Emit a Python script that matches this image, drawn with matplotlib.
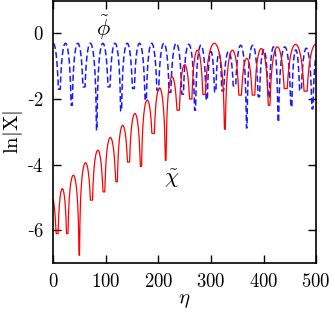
import numpy as np
import matplotlib
matplotlib.use("Agg")
import matplotlib.pyplot as plt

plt.rcParams['mathtext.fontset'] = 'cm'
plt.rcParams['font.family'] = ['DejaVu Serif']

# ---- data ----
# chi~ (red): dip positions, dip depths, arch peak heights (arch i lies between dip i and dip i+1)
chi_dip_x = [-16, 7.6, 26.7, 49.5, 73, 96.5, 120.6, 143.5, 167, 190.4, 213.9, 238, 262,
             286.5, 326.5, 355.3, 381, 410.6, 442, 480, 520]
chi_dip_y = [-6.0, -6.1, -6.1, -6.76, -5.08, -4.83, -4.52, -3.92, -4.05, -3.05, -3.87, -2.34, -2.0,
             -1.86, -2.92, -1.88, -1.88, -2.19, -1.68, -1.76, -1.8]
chi_peak = [-4.9, -4.73, -4.32, -3.94, -3.56, -3.17, -2.8, -2.44, -2.03, -1.66, -1.32, -0.95,
            -0.51, -0.3, -0.51, -0.76, -0.46, -0.41, -0.33, -0.32]

# phi~ (blue dashed)
phi_dip_x = [-12, 11.4, 35, 58.4, 82.6, 106, 129, 152.3, 175.8, 198.7, 222, 246, 269.7, 292,
             308, 322, 345, 368, 391, 410, 428, 453, 470, 493, 515]
phi_dip_y = [-1.7, -1.7, -2.19, -1.63, -2.95, -1.63, -2.36, -1.68, -2.03, -1.73, -1.8, -1.85,
             -2.34, -2.03, -1.78, -1.75, -1.6, -2.88, -1.93, -1.95, -2.7, -2.24, -1.73, -2.3, -1.8]
phi_peak = [-0.3, -0.3, -0.3, -0.3, -0.3, -0.3, -0.3, -0.3, -0.3, -0.3, -0.3, -0.33, -0.36,
            -0.55, -0.6, -0.55, -0.36, -0.36, -0.5, -0.41, -0.41, -0.5, -0.45, -0.5]

x_ticks = [0, 100, 200, 300, 400, 500]
y_ticks = [-6, -4, -2, 0]


def arches(dx, dy, pk, lo=0.0, hi=500.0):
    xs, ys = [], []
    for i in range(len(dx) - 1):
        a, b = dx[i], dx[i + 1]
        t = np.linspace(0, 1, 301)
        xx = a + t * (b - a)
        s = np.sin(np.pi * t)
        with np.errstate(divide='ignore'):
            yy = pk[i] + np.log(np.abs(s))
        floor = np.where(t < 0.5, dy[i], dy[i + 1])
        yy = np.maximum(yy, floor)
        xs.append(xx[:-1]); ys.append(yy[:-1])
    xs = np.concatenate(xs); ys = np.concatenate(ys)
    m = (xs >= lo) & (xs <= hi)
    return xs[m], ys[m]


def ylab(v):
    return ('-' if v < 0 else '') + f'${abs(v)}$'


fig = plt.figure(figsize=(3.32, 3.11), dpi=100)
ax = fig.add_axes([0.1605, 0.154, 0.7915, 0.844])

xb, yb = arches(phi_dip_x, phi_dip_y, phi_peak)
xr, yr = arches(chi_dip_x, chi_dip_y, chi_peak)
ax.plot(xb, yb, color='#1a1aff', lw=1.1, dashes=(4, 2))
ax.plot(xr, yr, color='#ff0000', lw=0.9)

ax.set_xlim(0, 500)
ax.set_ylim(-7, 1)
ax.set_xticks(x_ticks)
ax.set_yticks(y_ticks)
ax.set_xticklabels([f'${v}$' for v in x_ticks], fontsize=13.5)
ax.set_yticklabels([ylab(v) for v in y_ticks], fontsize=13.5)
ax.tick_params(direction='in', top=True, right=True, length=6, width=1.0)
ax.tick_params(axis='x', pad=7)
ax.tick_params(axis='y', pad=7)
for s in ax.spines.values():
    s.set_linewidth(1.2)

ax.set_xlabel(r'$\eta$', fontsize=15, labelpad=0)
ax.set_ylabel(r'$\mathrm{ln}|\mathrm{X}|$', fontsize=15, labelpad=1)

ax.text(95, 0.18, r'$\tilde{\phi}$', fontsize=16, ha='center', va='center')
ax.text(225, -4.42, r'$\tilde{\chi}$', fontsize=16, ha='center', va='center')

fig.savefig('out.png', dpi=100)
